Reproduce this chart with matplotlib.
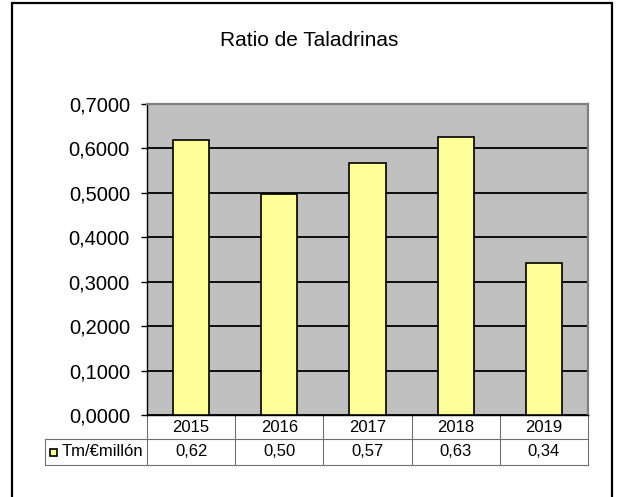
import matplotlib
matplotlib.use("Agg")
import matplotlib.pyplot as plt
from matplotlib.patches import Rectangle
from matplotlib.lines import Line2D

years = ["2015", "2016", "2017", "2018", "2019"]
ratio = [0.619, 0.497, 0.568, 0.626, 0.342]
series_name = "Tm/€millón"
title = "Ratio de Taladrinas"
yticks = [0.0, 0.1, 0.2, 0.3, 0.4, 0.5, 0.6, 0.7]

plt.rcParams['font.family'] = ['Liberation Sans', 'DejaVu Sans']

W, H = 618, 497
fig = plt.figure(figsize=(W / 100, H / 100), dpi=100)

# outer chart border (bottom edge falls off the canvas)
fig.add_artist(Rectangle((12 / W, -0.1), 600 / W, 1.1 - 3 / H, transform=fig.transFigure,
                         fill=False, edgecolor='black', linewidth=1.6))

fig.text(0.5, 1 - 40 / H, title, ha='center', va='center', fontsize=15)

ax = fig.add_axes([147 / W, 1 - 415 / H, 441 / W, 311 / H])
ax.set_facecolor('#C0C0C0')
x = list(range(len(years)))
ax.bar(x, ratio, width=0.41, color='#FFFF99', edgecolor='black', linewidth=1.2, zorder=3)
ax.set_xlim(-0.5, len(years) - 0.5)
ax.set_ylim(0, 0.7)
ax.set_yticks(yticks)
ax.set_yticklabels([f"{v:.4f}".replace('.', ',') for v in yticks], fontsize=14.5)
ax.yaxis.grid(True, color='black', linewidth=1.3, zorder=1)
ax.set_axisbelow(True)
ax.tick_params(axis='y', direction='out', length=4.3, width=1, pad=8)
ax.tick_params(axis='x', bottom=False, labelbottom=False)
ax.spines['left'].set_color('black')
ax.spines['left'].set_linewidth(1)
ax.spines['bottom'].set_color('black')
ax.spines['bottom'].set_linewidth(1)
for s in ['top', 'right']:
    ax.spines[s].set_color('#808080')
    ax.spines[s].set_linewidth(1.6)

# data table under the plot
n = len(years)
r1 = -24 / 311
r2 = -50 / 311
lab_left = (45 - 147) / 441
lc = '#707070'
lw = 0.8
kw = dict(transform=ax.transAxes, clip_on=False, color=lc, linewidth=lw)
ax.add_line(Line2D([lab_left, 1], [r1, r1], **kw))
ax.add_line(Line2D([lab_left, 1], [r2, r2], **kw))
ax.add_line(Line2D([lab_left, lab_left], [r1, r2], **kw))
for i in range(n + 1):
    ax.add_line(Line2D([i / n, i / n], [0, r2], **kw))
for i, (yr, v) in enumerate(zip(years, ratio)):
    cx = (i + 0.5) / n
    ax.text(cx, r1 / 2, yr, transform=ax.transAxes, ha='center', va='center', fontsize=12)
    ax.text(cx, (r1 + r2) / 2, f"{v:.2f}".replace('.', ','), transform=ax.transAxes,
            ha='center', va='center', fontsize=12)
ax.add_patch(Rectangle(((50 - 147) / 441, (r1 + r2) / 2 - 3.5 / 311), 7 / 441, 7 / 311,
                       transform=ax.transAxes, clip_on=False, facecolor='#FFFF99',
                       edgecolor='black', linewidth=1.2))
ax.text((62 - 147) / 441, (r1 + r2) / 2, series_name, transform=ax.transAxes,
        ha='left', va='center', fontsize=12)

fig.savefig("out.png", dpi=100)
